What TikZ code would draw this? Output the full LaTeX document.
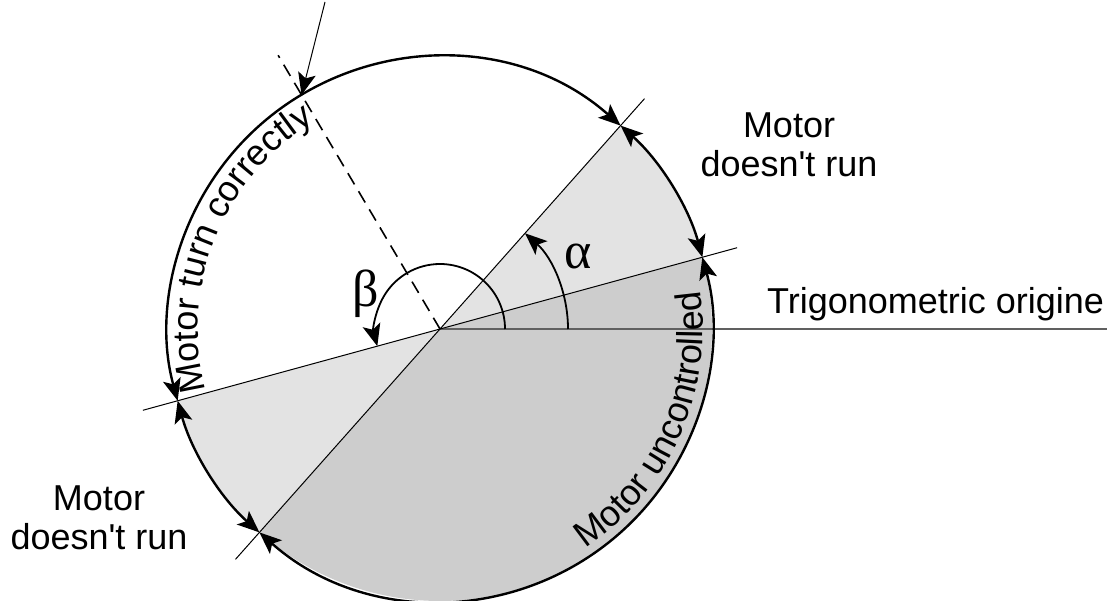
\documentclass[tikz,border=0pt]{standalone}
\usepackage{fontspec}
\setmainfont{Liberation Sans}
\newfontfamily\greekfont{Liberation Serif}
\usetikzlibrary{arrows.meta,decorations.text}
\definecolor{lightfill}{HTML}{E3E3E3}
\definecolor{darkfill}{HTML}{CDCDCD}
\definecolor{axisgray}{HTML}{606060}
\newcommand{\bigfont}{\fontsize{36}{39}\selectfont}
\tikzset{
  onetip/.style={-{Stealth[length=22pt,width=18pt,inset=5pt]}},
  bothtips/.style={{Stealth[length=22pt,width=18pt,inset=5pt]}-{Stealth[length=22pt,width=18pt,inset=5pt]}},
  rim/.style={line width=2.4pt,bothtips},
  radial/.style={line width=1pt},
  axisline/.style={line width=1.3pt,draw=axisgray},
  dashline/.style={line width=1.6pt,dash pattern=on 13pt off 8pt},
  anglearc/.style={line width=1.8pt,onetip},
  txtlabel/.style={font=\bigfont,inner sep=0pt,align=center},
  glabel/.style={font=\greekfont\fontsize{52}{56}\selectfont,inner sep=0pt}
}
\begin{document}
\begin{tikzpicture}[x=1pt,y=1pt]
\useasboundingbox (0,0) rectangle (1107,600);
\coordinate (C) at (440,271);
\path (C) ++(15.3:272) coordinate (P1);
\path (C) ++(48.4:272) coordinate (P2);
\path (C) ++(195.3:272) coordinate (P3);
\path (C) ++(228.4:272) coordinate (P4);
\path (C) ++(120.6:272) coordinate (P0);
\path (C) ++(15.3:308) coordinate (L1a);
\path (C) ++(195.3:308) coordinate (L1b);
\path (C) ++(48.4:308) coordinate (L2a);
\path (C) ++(228.4:308) coordinate (L2b);
\path (C) ++(120.6:318) coordinate (D);
\path (C) ++(0:128) coordinate (A0);
\path (C) ++(0:65) coordinate (B0);
\coordinate (H) at (1107,271);
\coordinate (T) at (325,598);
% fills
\fill[darkfill] (C) -- (P4) arc[start angle=228.4,end angle=375.3,radius=272] -- cycle;
\fill[lightfill] (C) -- (P1) arc[start angle=15.3,end angle=48.4,radius=272] -- cycle;
\fill[lightfill] (C) -- (P3) arc[start angle=195.3,end angle=228.4,radius=272] -- cycle;
% lines
\draw[axisline] (C) -- (H);
\draw[radial] (L1b) -- (L1a);
\draw[radial] (L2b) -- (L2a);
\draw[dashline] (C) -- (D);
% rim arcs
\draw[rim] (P1) arc[start angle=15.3,end angle=48.4,radius=272];
\draw[rim] (P2) arc[start angle=48.4,end angle=195.3,radius=272];
\draw[rim] (P3) arc[start angle=195.3,end angle=228.4,radius=272];
\draw[rim] (P4) arc[start angle=228.4,end angle=375.3,radius=272];
\draw[line width=1pt,onetip] (T) -- (P0);
% angle arcs
\draw[anglearc] (A0) arc[start angle=0,end angle=48.4,radius=128];
\draw[anglearc] (B0) arc[start angle=0,end angle=195.3,radius=65];
\node[glabel] (alpha) at (578,344) {α};
\node[glabel] (beta) at (366,306) {β};
% texts
\node[txtlabel] (mdr1) at (789,455) {Motor\\doesn\textquotesingle t run};
\node[txtlabel] (mdr2) at (99,82) {Motor\\doesn\textquotesingle t run};
\node[txtlabel,anchor=base west] (trig) at (767,286) {Trigonometric origine};
\path[decorate,decoration={text along path,text align=center,text={|\bigfont|Motor turn correctly}}]
  (C) ++(197:242) arc[start angle=197,end angle=119,radius=242];
\path[decorate,decoration={text along path,text align=center,text={|\bigfont|Motor uncontrolled}}]
  (C) ++(-59:263) arc[start angle=-59,end angle=11,radius=263];
\end{tikzpicture}
\end{document}
